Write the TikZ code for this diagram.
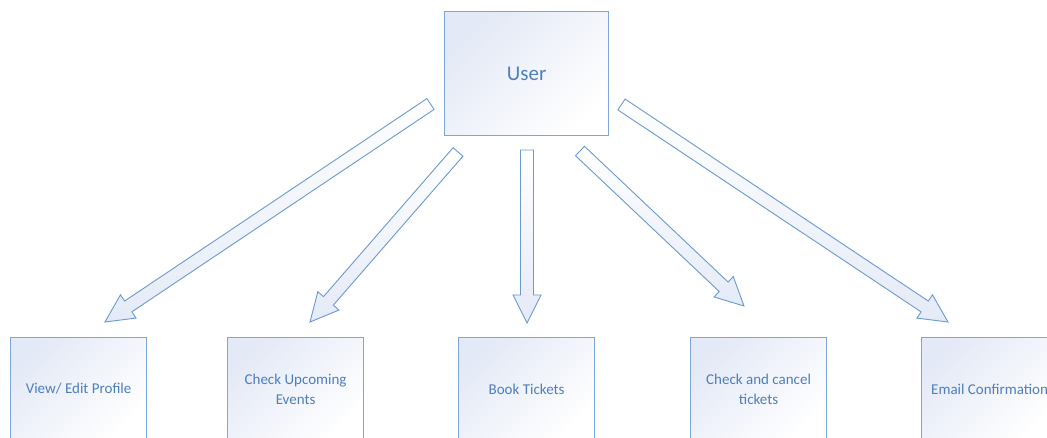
\documentclass[tikz,border=0pt]{standalone}
\usepackage{fontspec}
\setmainfont{Carlito}
\usetikzlibrary{calc}
\definecolor{edge}{HTML}{7EA6D6}
\definecolor{txt}{HTML}{4F7FBA}
\definecolor{shadeblue}{HTML}{E3E9F6}
\definecolor{arrowedge}{HTML}{6B9ACF}
\definecolor{arrowfill}{HTML}{E4EAF7}
\newcommand\blockarr[2]{%
  \coordinate (#1h) at ($(#2)!28pt!(#1)$);
  \path[arrowbody]
    ($(#1)!6.5pt!90:(#2)$) -- ($(#1h)!6.5pt!90:(#2)$) -- ($(#1h)!14pt!90:(#2)$)
    -- (#2) -- ($(#1h)!14pt!-90:(#2)$) -- ($(#1h)!6.5pt!-90:(#2)$)
    -- ($(#1)!6.5pt!-90:(#2)$) -- cycle;}
\begin{document}
\begin{tikzpicture}[x=1pt,y=-1pt,
  box/.style={draw=edge, line width=1.2pt, top color=shadeblue, bottom color=white,
    shading angle=45, text=txt, font=\fontsize{15}{19.5}\selectfont, align=center,
    minimum width=136pt, minimum height=103pt, inner sep=0pt, anchor=north west},
  userbox/.style={box, minimum width=164pt, minimum height=124pt, font=\fontsize{21}{25}\selectfont},
  arrowbody/.style={draw=arrowedge, line width=0.9pt, line join=miter, top color=white, bottom color=arrowfill}]
\clip (0,0) rectangle (1047,438);
\fill[white] (0,0) rectangle (1047,438);
\node[userbox] (user) at (444,11) {User};
\node[box] (b1) at (10,337) {View/ Edit Profile};
\node[box] (b2) at (227,337) {Check Upcoming\\Events};
\node[box] (b3) at (458,337) {Book Tickets};
\node[box] (b4) at (690,337) {Check and cancel\\tickets};
\node[box] (b5) at (921,337) {Email Confirmation};
\coordinate (t1) at (430.5,104);
\coordinate (p1) at (105,322);
\coordinate (t2) at (458,152);
\coordinate (p2) at (310,322);
\coordinate (t3) at (527,150);
\coordinate (p3) at (527,323);
\coordinate (t4) at (580,151);
\coordinate (p4) at (744,306);
\coordinate (t5) at (621.5,104.5);
\coordinate (p5) at (948,322);
\blockarr{t1}{p1}
\blockarr{t2}{p2}
\blockarr{t3}{p3}
\blockarr{t4}{p4}
\blockarr{t5}{p5}
\end{tikzpicture}
\end{document}
